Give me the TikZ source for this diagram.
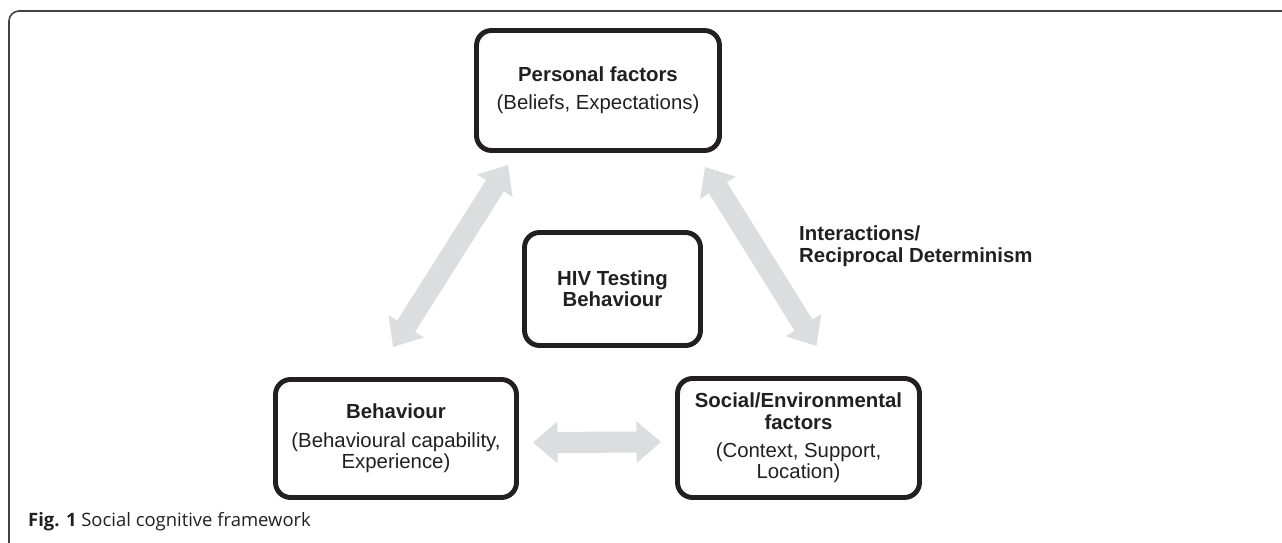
\documentclass[tikz,border=0pt]{standalone}
\usepackage{fontspec}
\setmainfont{Liberation Sans}
\newfontfamily\capfont{Open Sans}
\usepackage{xcolor}
\usepackage{tikz}
\usetikzlibrary{arrows.meta, calc}
\definecolor{linkgray}{HTML}{DCDDDF}
\definecolor{boxline}{HTML}{231F20}

\begin{document}
\begin{tikzpicture}[
      x=0.02cm, y=-0.02cm,
      every node/.style={font=\fontsize{11.6}{12.2}\selectfont, text=boxline},
      factor/.style={rectangle, draw=boxline, line width=2.8pt, rounded corners=0.3cm, align=center},
      link/.style={draw=linkgray, line width=12pt, {Triangle[length=14pt,width=23pt]}-{Triangle[length=14pt,width=23pt]}}
    ]
      \useasboundingbox (0,0) rectangle (1282,543);
      % frame
      \draw[boxline!85, line width=0.9pt, rounded corners=0.2cm] (9,545) |- (1284,11);

      \node[factor, minimum width=4.86cm, minimum height=2.40cm] (personal) at (598,90.5)
        {\textbf{Personal factors}\\[4pt](Beliefs, Expectations)};
      \node[factor, minimum width=3.52cm, minimum height=2.26cm] (hiv) at (612.5,289)
        {\textbf{HIV Testing}\\\textbf{Behaviour}};
      \node[factor, minimum width=4.82cm, minimum height=2.36cm] (behaviour) at (396,438.5)
        {\textbf{Behaviour}\\[4pt](Behavioural capability,\\Experience)};
      \node[factor, minimum width=4.84cm, minimum height=2.38cm] (social) at (798.5,438)
        {\textbf{Social/Environmental}\\\textbf{factors}\\[4pt](Context, Support,\\Location)};

      \node[anchor=west, align=left, font=\bfseries\fontsize{11.6}{12.6}\selectfont] (interact) at (793,246)
        {Interactions/\\Reciprocal Determinism};

      \draw[link] ($(personal.south west)+(34,12)$) -- ($(behaviour.north)+(-3,-30)$);
      \draw[link] ($(personal.south east)+(-17,14)$) -- ($(social.north)+(18,-30)$);
      \draw[link] ($(behaviour.east)+(14,4)$) -- ($(social.west)+(-14,4)$);

      \node[anchor=west, font=\capfont\fontsize{10.5}{12.5}\selectfont] (caption) at (22,522)
        {\textbf{Fig. 1} Social cognitive framework};
    \end{tikzpicture}
\end{document}
